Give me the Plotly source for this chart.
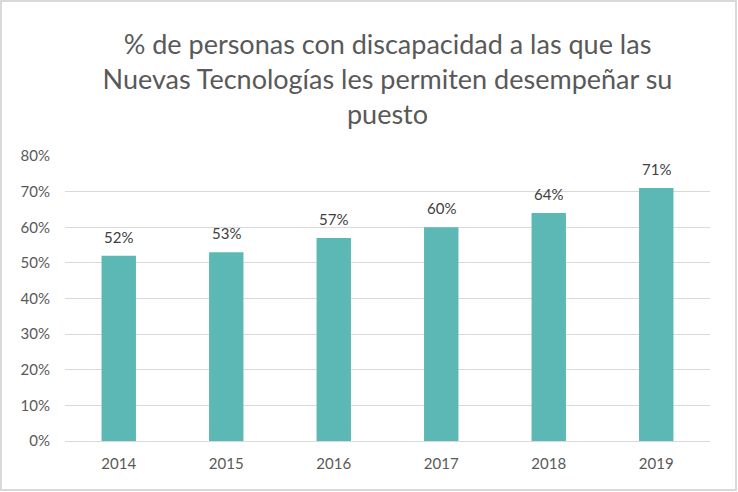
import plotly.graph_objects as go

years = ["2014", "2015", "2016", "2017", "2018", "2019"]
values = [0.52, 0.53, 0.57, 0.60, 0.64, 0.71]
y_ticks = [0, 0.1, 0.2, 0.3, 0.4, 0.5, 0.6, 0.7, 0.8]
y_tick_labels = ["0%", "10%", "20%", "30%", "40%", "50%", "60%", "70%", "80%"]
title_text = "% de personas con discapacidad a las que las<br>Nuevas Tecnologías les permiten desempeñar su<br>puesto"

W, H = 738, 492
ml, mr, mt, mb = 65, 28, 156, 51
pw, ph = W - ml - mr, H - mt - mb
FONT = "Lato, sans-serif"

fig = go.Figure()
fig.add_trace(go.Bar(
    x=years, y=values,
    marker=dict(color="#5BB8B4", line=dict(width=0)),
))

# category index positions for labels
annotations = [
    dict(x=i, y=v, xref="x", yref="y", text=f"{round(v*100)}%",
         showarrow=False, yanchor="bottom", yshift=8,
         font=dict(family=FONT, size=15, color="#404040"))
    for i, v in enumerate(values)
]

fig.update_layout(
    width=W, height=H,
    margin=dict(l=ml, r=mr, t=mt, b=mb),
    paper_bgcolor="white", plot_bgcolor="white",
    bargap=0.68,
    showlegend=False,
    title=dict(text=title_text, x=0.5, xanchor="center", xref="paper",
               y=1 - 54 / H, yanchor="middle", yref="container",
               font=dict(family=FONT, size=27, color="#595959")),
    xaxis=dict(type="category", range=[-0.5, len(years) - 0.5],
               showgrid=False, showline=False, ticks="", ticklabelstandoff=12,
               tickfont=dict(family=FONT, size=15, color="#595959")),
    yaxis=dict(range=[0, 0.8], tickvals=y_ticks, ticktext=y_tick_labels,
               showgrid=True, gridcolor="#D9D9D9", gridwidth=1,
               zeroline=True, zerolinecolor="#D9D9D9", zerolinewidth=1,
               showline=False, ticks="", ticklabelstandoff=14,
               tickfont=dict(family=FONT, size=15, color="#595959")),
    annotations=annotations,
    shapes=[dict(type="rect", xref="paper", yref="paper",
                 x0=(1 - ml) / pw, x1=(W - 2 - ml) / pw,
                 y0=(H - mb - (H - 2)) / ph, y1=(H - mb - 1) / ph,
                 line=dict(color="#D9D9D9", width=2), fillcolor="rgba(0,0,0,0)")],
)

fig.write_html("out.html", config={"displayModeBar": False},
               post_script="document.body.style.margin='0';document.body.style.overflow='hidden';")
